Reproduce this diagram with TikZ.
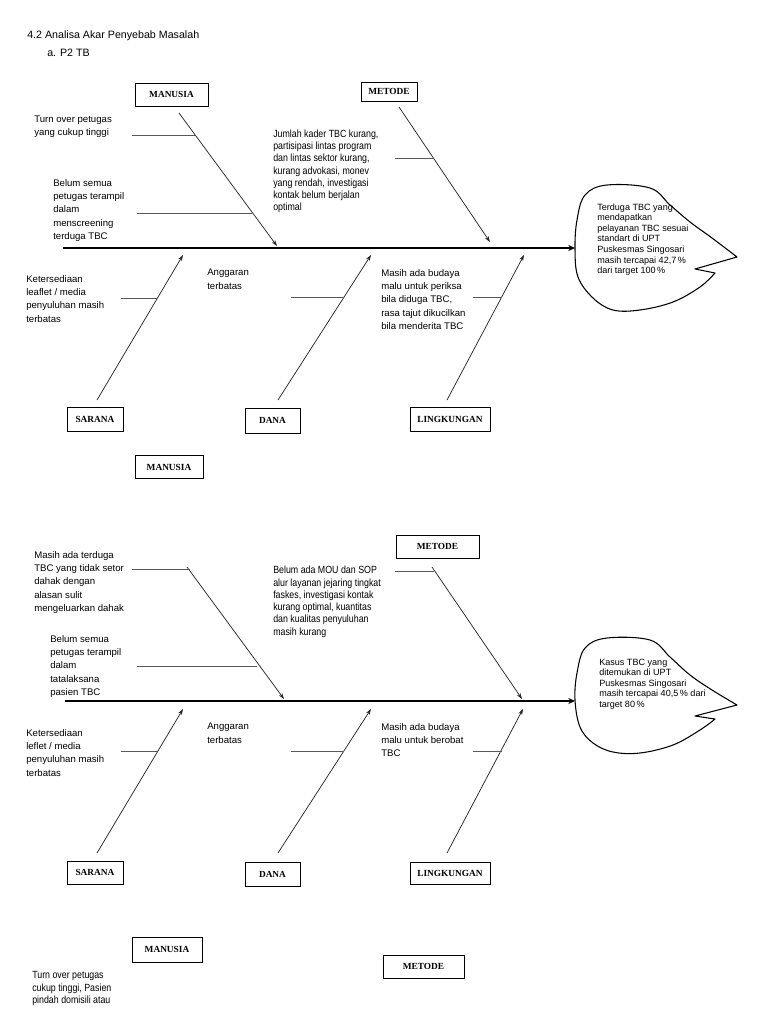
\documentclass[tikz,border=0pt]{standalone}
\usepackage{fontspec}
\setmainfont{Liberation Sans}
\newfontfamily\boxfont{Liberation Serif}
\newfontfamily\narrowfont[FakeStretch=0.85]{Liberation Sans}
\usetikzlibrary{arrows.meta}
\begin{document}
\begin{tikzpicture}[x=0.75pt,y=-0.75pt,
  catbox/.style n args={2}{draw, line width=0.6pt, inner sep=0pt, minimum width=#1*0.75pt, minimum height=#2*0.75pt, font=\boxfont\bfseries\fontsize{7}{8}\selectfont},
  notetext/.style={anchor=north west, inner sep=0pt, align=left, font=\fontsize{7.2}{10}\selectfont},
  narrowtext/.style={anchor=north west, inner sep=0pt, align=left, font=\narrowfont\fontsize{7.8}{9.2}\selectfont},
  headtxt/.style={anchor=north west, inner sep=0pt, align=left, font=\fontsize{6.8}{7.9}\selectfont},
  titletext/.style={anchor=base west, inner sep=0pt, font=\fontsize{8}{10}\selectfont},
  bonearrow/.style={line width=0.55pt, draw=black!85, -{Stealth[length=4.5pt,width=3pt]}},
  spinearrow/.style={line width=1.6pt, -{Stealth[length=5pt,width=4.5pt]}},
  twigline/.style={line width=0.7pt, draw=black!65},
  headshape/.style={line width=0.8pt, line join=round}
]
\fill[white] (0,0) rectangle (768,1024);
\useasboundingbox (0,0) rectangle (768,1024);

% titles
\node[titletext] (title) at (27,39) {4.2 Analisa Akar Penyebab Masalah};
\node[titletext] (sub) at (47,57) {a. P2 TB};

% ================= Diagram 1 =================
\node[catbox={73}{23}] (man1) at (171.5,94.5) {MANUSIA};
\node[catbox={56}{19}] (met1) at (389,91.5) {METODE};
\node[catbox={56}{24}] (sar1) at (95,419) {SARANA};
\node[catbox={55}{25}] (dan1) at (272.5,420.5) {DANA};
\node[catbox={80}{24}] (lin1) at (450,419) {LINGKUNGAN};
\node[catbox={68}{23}] (man1b) at (169,467) {MANUSIA};

% head 1
\draw[headshape] (715,273) -- (695,269) -- (737,257) -- plot[smooth,tension=0.6] coordinates {(737,257)(712,238)(690,222)(670,205)(650,188)(607,185)(585,195)(577,220)(575,249)(578,277)(593,298)(613,310)(640,310)(673,302)(700,287)(715,273)} -- cycle;
\coordinate (head1) at (575,248);
\node[headtxt] (h1txt) at (597,203.5) {Terduga TBC yang\\mendapatkan\\pelayanan TBC sesuai\\standart di UPT\\Puskesmas Singosari\\masih tercapai 42,7\,\%\\dari target 100\,\%};

% spine 1
\coordinate (sp1) at (63,248);
\draw[spinearrow] (sp1) -- (head1);

% bones 1
\coordinate (bm1s) at (179,113); \coordinate (bm1e) at (277,246);
\coordinate (bt1s) at (399,107); \coordinate (bt1e) at (490,242);
\coordinate (bs1s) at (97,400);  \coordinate (bs1e) at (183,255);
\coordinate (bd1s) at (278,400); \coordinate (bd1e) at (371,255);
\coordinate (bl1s) at (447,400); \coordinate (bl1e) at (524,255);
\draw[bonearrow] (bm1s) -- (bm1e);
\draw[bonearrow] (bt1s) -- (bt1e);
\draw[bonearrow] (bs1s) -- (bs1e);
\draw[bonearrow] (bd1s) -- (bd1e);
\draw[bonearrow] (bl1s) -- (bl1e);

% twigs 1
\coordinate (tw1a) at (132,135); \coordinate (tw1b) at (195,135);
\coordinate (tw2a) at (137,213); \coordinate (tw2b) at (252,213);
\coordinate (tw3a) at (395,158); \coordinate (tw3b) at (433,158);
\coordinate (tw4a) at (121,298); \coordinate (tw4b) at (157,298);
\coordinate (tw5a) at (291,297); \coordinate (tw5b) at (344,297);
\coordinate (tw6a) at (473,297); \coordinate (tw6b) at (502,297);
\draw[twigline] (tw1a) -- (tw1b);
\draw[twigline] (tw2a) -- (tw2b);
\draw[twigline] (tw3a) -- (tw3b);
\draw[twigline] (tw4a) -- (tw4b);
\draw[twigline] (tw5a) -- (tw5b);
\draw[twigline] (tw6a) -- (tw6b);

% texts 1
\node[notetext] (n1a) at (34,115.5) {Turn over petugas\\yang cukup tinggi};
\node[notetext] (n1b) at (53,179) {Belum semua\\petugas terampil\\dalam\\menscreening\\terduga TBC};
\node[narrowtext] (n1c) at (273,129.5) {Jumlah kader TBC kurang,\\partisipasi lintas program\\dan lintas sektor kurang,\\kurang advokasi, monev\\yang rendah, investigasi\\kontak belum berjalan\\optimal};
\node[notetext] (n1d) at (26,275) {Ketersediaan\\leaflet / media\\penyuluhan masih\\terbatas};
\node[notetext] (n1e) at (207,269) {Anggaran\\terbatas};
\node[notetext] (n1f) at (381,269) {Masih ada budaya\\malu untuk periksa\\bila diduga TBC,\\rasa tajut dikucilkan\\bila menderita TBC};

% ================= Diagram 2 =================
\node[catbox={83}{23}] (met2) at (437.5,546.5) {METODE};
\node[catbox={56}{23}] (sar2) at (95,872.5) {SARANA};
\node[catbox={55}{24}] (dan2) at (272.5,874) {DANA};
\node[catbox={80}{22}] (lin2) at (450,873) {LINGKUNGAN};

% head 2
\draw[headshape] (715,719) -- (695,716) -- (737,705) -- plot[smooth,tension=0.6] coordinates {(737,705)(712,690)(690,675)(670,657)(650,640)(607,638)(585,648)(577,673)(575,700)(580,727)(593,743)(613,752)(640,753)(673,745)(700,730)(715,719)} -- cycle;
\coordinate (head2) at (575,701);
\node[headtxt] (h2txt) at (599,658.5) {Kasus TBC yang\\ditemukan di UPT\\Puskesmas Singosari\\masih tercapai 40,5\,\% dari\\target 80\,\%};

% spine 2
\coordinate (sp2) at (65,701);
\draw[spinearrow] (sp2) -- (head2);

% bones 2
\coordinate (bm2s) at (187,567); \coordinate (bm2e) at (284,699);
\coordinate (bt2s) at (432,567); \coordinate (bt2e) at (522,699);
\coordinate (bs2s) at (97,853);  \coordinate (bs2e) at (183,709);
\coordinate (bd2s) at (278,853); \coordinate (bd2e) at (371,709);
\coordinate (bl2s) at (447,853); \coordinate (bl2e) at (523,709);
\draw[bonearrow] (bm2s) -- (bm2e);
\draw[bonearrow] (bt2s) -- (bt2e);
\draw[bonearrow] (bs2s) -- (bs2e);
\draw[bonearrow] (bd2s) -- (bd2e);
\draw[bonearrow] (bl2s) -- (bl2e);

% twigs 2
\coordinate (tv1a) at (132,569); \coordinate (tv1b) at (190,569);
\coordinate (tv2a) at (137,666); \coordinate (tv2b) at (257,666);
\coordinate (tv3a) at (395,571); \coordinate (tv3b) at (434,571);
\coordinate (tv4a) at (121,751); \coordinate (tv4b) at (157,751);
\coordinate (tv5a) at (291,751); \coordinate (tv5b) at (344,751);
\coordinate (tv6a) at (473,751); \coordinate (tv6b) at (502,751);
\draw[twigline] (tv1a) -- (tv1b);
\draw[twigline] (tv2a) -- (tv2b);
\draw[twigline] (tv3a) -- (tv3b);
\draw[twigline] (tv4a) -- (tv4b);
\draw[twigline] (tv5a) -- (tv5b);
\draw[twigline] (tv6a) -- (tv6b);

% texts 2
\node[notetext] (n2a) at (34,551) {Masih ada terduga\\TBC yang tidak setor\\dahak dengan\\alasan sulit\\mengeluarkan dahak};
\node[notetext] (n2b) at (50,635) {Belum semua\\petugas terampil\\dalam\\tatalaksana\\pasien TBC};
\node[narrowtext] (n2c) at (273,566) {Belum ada MOU dan SOP\\alur layanan jejaring tingkat\\faskes, investigasi kontak\\kurang optimal, kuantitas\\dan kualitas penyuluhan\\masih kurang};
\node[notetext] (n2d) at (26,729) {Ketersediaan\\leflet / media\\penyuluhan masih\\terbatas};
\node[notetext] (n2e) at (207,723) {Anggaran\\terbatas};
\node[notetext] (n2f) at (381,723) {Masih ada budaya\\malu untuk berobat\\TBC};

% ================= bottom =================
\node[catbox={70}{25}] (man3) at (167,949.5) {MANUSIA};
\node[catbox={81}{23}] (met3) at (423.5,966.5) {METODE};
\node[narrowtext] (n3a) at (32,971.5) {Turn over petugas\\cukup tinggi, Pasien\\pindah domisili atau};
\end{tikzpicture}
\end{document}
